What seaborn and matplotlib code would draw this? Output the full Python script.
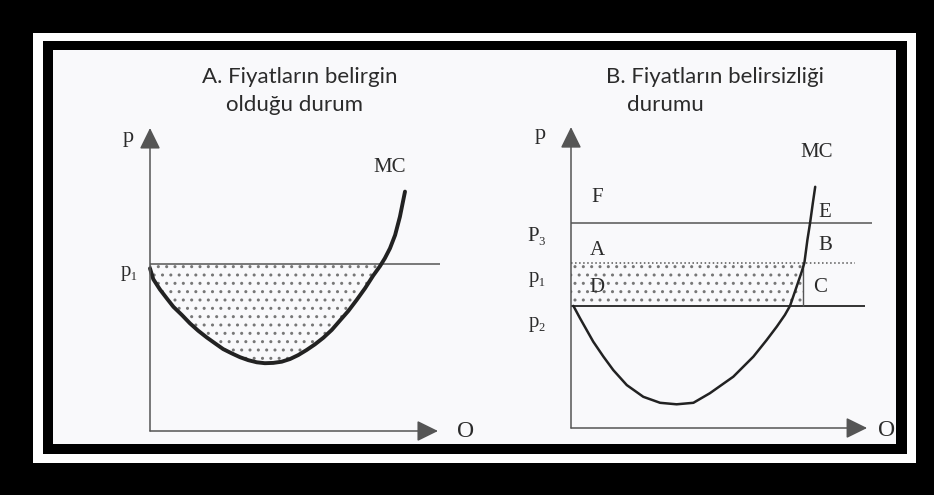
import numpy as np
import seaborn as sns
import matplotlib.pyplot as plt
from matplotlib.patches import Rectangle

##############################################################################
# Values (q on the horizontal axis, p on the vertical)
##############################################################################
# Panel A: MC curve and the single known price p1
qA = [0.0, 0.11, 0.33, 0.56, 0.78, 1.06, 1.33, 1.61, 1.89, 2.17,
      2.44, 2.72, 3.00, 3.28, 3.56, 3.83, 4.11, 4.39, 4.67, 4.94,
      5.22, 5.50, 5.78, 6.06, 6.33, 6.61, 6.89, 7.17, 7.44, 7.67,
      7.83, 8.00, 8.17, 8.33, 8.50]
mcA = [5.42, 5.06, 4.72, 4.42, 4.14, 3.87, 3.59, 3.34, 3.12, 2.92,
       2.73, 2.59, 2.46, 2.36, 2.29, 2.26, 2.27, 2.31, 2.40, 2.53,
       2.70, 2.89, 3.11, 3.37, 3.68, 4.00, 4.37, 4.76, 5.18, 5.50,
       5.76, 6.09, 6.53, 7.14, 7.98]
p1A = 5.58

# Panel B: MC curve and the three price levels
qB = [0.08, 0.30, 0.52, 0.74, 1.08, 1.41, 1.86, 2.41, 2.97, 3.52,
      4.08, 4.63, 5.41, 6.08, 6.52, 6.86, 7.13, 7.30, 7.52, 7.69,
      7.78, 7.88, 7.97, 8.06, 8.14]
mcB = [4.07, 3.66, 3.27, 2.88, 2.38, 1.93, 1.43, 1.04, 0.84, 0.79,
       0.84, 1.16, 1.71, 2.38, 2.93, 3.38, 3.77, 4.07, 4.71, 5.21,
       5.51, 6.27, 6.84, 7.49, 8.04]
p3B = 6.83
p1B = 5.50
p2B = 4.07
qC = 7.75   # output where MC meets p1

titleA = ["A. Fiyatların belirgin", "olduğu durum"]
titleB = ["B. Fiyatların belirsizliği", "durumu"]

##############################################################################
# Figure, frames
##############################################################################
sns.set_theme(style="white")
plt.rcParams['hatch.linewidth'] = 1.0
W, H = 934, 495
fig = plt.figure(figsize=(W / 100, H / 100), dpi=100, facecolor="black")

def frame(x0, y0, x1, y1, color):
    fig.patches.append(Rectangle((x0 / W, 1 - y1 / H), (x1 - x0) / W, (y1 - y0) / H,
                                 transform=fig.transFigure, facecolor=color,
                                 edgecolor="none", zorder=-5))

frame(33, 33, 916, 463, "white")
frame(43, 41, 907, 454, "black")
frame(53, 50, 896, 444, "#f9f9fb")

serif = ['Liberation Serif', 'DejaVu Serif']
sans = ['Lato', 'DejaVu Sans']
ink = "#2b2b2b"
axis_c = "#555555"

def make_axes(px0, px1, ox, oy):
    # axes spanning pixels px0..px1 horizontally, 115..445 vertically, 30 px per unit
    ax = fig.add_axes([px0 / W, 1 - 445 / H, (px1 - px0) / W, 330 / H])
    ax.set_xlim((px0 - ox) / 30, (px1 - ox) / 30)
    ax.set_ylim((oy - 445) / 30, (oy - 115) / 30)
    ax.axis("off")
    ax.patch.set_alpha(0)
    return ax

def axis_arrows(ax, xmax, ymax):
    style = dict(arrowstyle="-|>,head_length=0.65,head_width=0.32", color=axis_c,
                 lw=1.1, mutation_scale=20, shrinkA=0, shrinkB=0)
    ax.annotate("", xy=(xmax, 0), xytext=(0, 0), arrowprops=style)
    ax.annotate("", xy=(0, ymax), xytext=(0, 0), arrowprops=style)

def label(ax, x, y, s, size=15, family=serif):
    ax.text(x, y, s, ha="center", va="center", fontsize=size, family=family,
            color=ink, clip_on=False)

##############################################################################
# Panel A
##############################################################################
axA = make_axes(100, 480, 150, 431)
axis_arrows(axA, 9.6, 10.1)
axA.hlines(p1A, 0, 9.67, color=axis_c, lw=1.1)
n_fill = 30
axA.fill_between(qA[:n_fill], np.minimum(mcA[:n_fill], p1A), p1A, facecolor="none",
                 edgecolor="#777777", linewidth=0, hatch="..")
sns.lineplot(x=qA, y=mcA, ax=axA, sort=False, color="#222222", linewidth=2.8)

label(axA, -0.73, 9.77, "p", size=16)
label(axA, -0.67, 5.33, "p₁")
label(axA, 8.0, 8.8, "MC")
label(axA, 10.53, -0.03, "O", size=17)
label(axA, 5.0, 11.8, titleA[0], size=16, family=sans)
label(axA, 4.83, 10.87, titleA[1], size=16, family=sans)

##############################################################################
# Panel B
##############################################################################
axB = make_axes(500, 895, 571, 428)
axis_arrows(axB, 9.87, 10.03)
axB.hlines(p3B, 0, 10.03, color=axis_c, lw=1.1)
axB.hlines(p2B, 0, 9.8, color="#333333", lw=1.4)
axB.hlines(p1B, 0, 9.47, color=axis_c, lw=1.1, linestyles=":")
axB.vlines(qC, p2B, p1B, color=axis_c, lw=1.0)
axB.fill_between([0, qC], p2B, p1B, facecolor="none", edgecolor="#777777",
                 linewidth=0, hatch="..")
sns.lineplot(x=qB, y=mcB, ax=axB, sort=False, color="#222222", linewidth=1.8)

label(axB, -1.03, 9.77, "p", size=16)
label(axB, 8.2, 9.17, "MC")
label(axB, 0.87, 7.67, "F")
label(axB, 8.47, 7.17, "E")
label(axB, -1.13, 6.37, "P₃")
label(axB, 0.87, 5.93, "A")
label(axB, 8.47, 6.1, "B")
label(axB, -1.13, 5.03, "p₁")
label(axB, 0.87, 4.7, "D")
label(axB, 8.3, 4.7, "C")
label(axB, -1.13, 3.5, "p₂")
label(axB, 10.53, -0.07, "O", size=17)
label(axB, 4.8, 11.7, titleB[0], size=16, family=sans)
label(axB, 3.13, 10.77, titleB[1], size=16, family=sans)

fig.savefig("out.png", dpi=100, facecolor=fig.get_facecolor())
